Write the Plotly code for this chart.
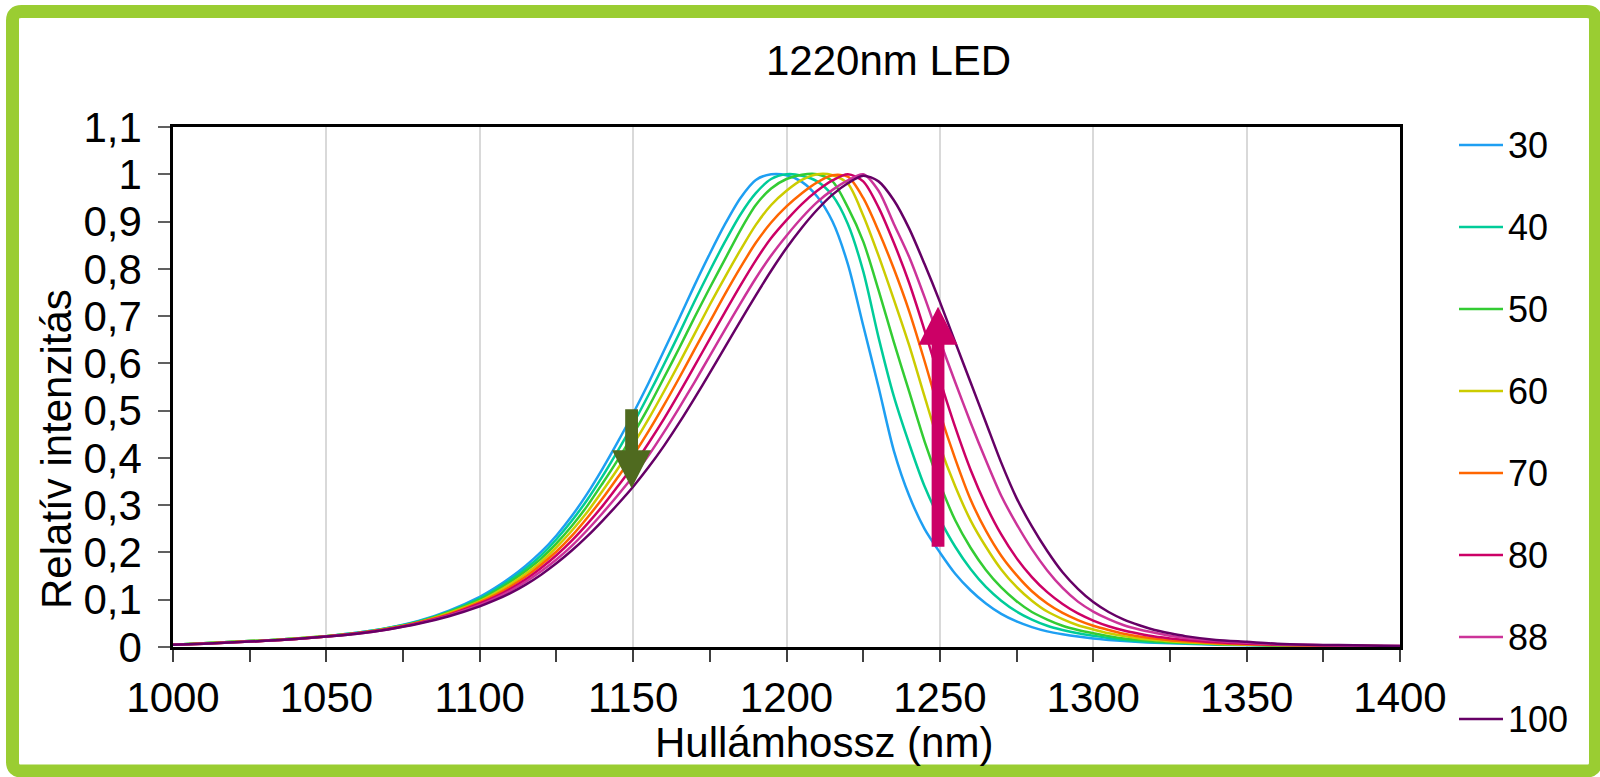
import plotly.graph_objects as go

# ---------------- data ----------------
WAVELENGTH = [1000, 1010, 1020, 1030, 1040, 1050, 1060, 1070, 1080, 1090,
              1100, 1105, 1110, 1115, 1120, 1125, 1130, 1135, 1140, 1145,
              1150, 1155, 1160, 1165, 1170, 1175, 1180, 1185, 1190, 1195,
              1200, 1205, 1210, 1215, 1220, 1225, 1230, 1235, 1240, 1245,
              1250, 1255, 1260, 1265, 1270, 1275, 1280, 1285, 1290, 1295,
              1300, 1305, 1310, 1315, 1320, 1325, 1330,
              1340, 1350, 1360, 1370, 1380, 1390, 1400]

S30 = [.005, .008, .011, .014, .018, .023, .030, .040, .055, .077,
       .106, .125, .147, .172, .201, .236, .277, .324, .377, .434,
       .494, .558, .626, .695, .765, .832, .895, .950, .988, 1.0,
       .998, .984, .953, .900, .810, .680, .550, .415, .320, .250,
       .200, .155, .120, .092, .070, .054, .042, .033, .027, .022,
       .018, .015, .0125, .0105, .009, .0078, .0068,
       .005, .004, .003, .002, .002, .001, .001]
S40 = [.005, .008, .011, .014, .018, .023, .030, .040, .054, .075,
       .103, .121, .142, .166, .194, .228, .267, .311, .361, .415,
       .472, .533, .597, .663, .731, .796, .858, .915, .960, .990,
       1.0, .997, .985, .955, .895, .795, .655, .530, .430, .340,
       .270, .212, .165, .127, .098, .075, .058, .045, .036, .029,
       .024, .019, .015, .012, .010, .009, .008,
       .006, .004, .003, .002, .002, .001, .001]
S50 = [.005, .008, .011, .014, .018, .023, .029, .039, .053, .074,
       .100, .118, .138, .161, .187, .219, .256, .298, .346, .396,
       .450, .507, .569, .632, .697, .760, .821, .882, .935, .970,
       .990, .999, 1.0, .985, .930, .858, .755, .645, .540, .435,
       .345, .268, .210, .163, .126, .097, .074, .058, .045, .036,
       .029, .023, .018, .015, .012, .010, .009,
       .006, .005, .003, .002, .002, .001, .001]
S60 = [.005, .008, .011, .014, .018, .023, .029, .039, .052, .072,
       .097, .114, .133, .155, .180, .211, .246, .285, .330, .377,
       .428, .482, .540, .600, .662, .724, .783, .840, .893, .935,
       .965, .988, 1.0, .998, .980, .913, .828, .735, .638, .530,
       .425, .340, .268, .212, .164, .127, .098, .075, .059, .046,
       .037, .029, .023, .018, .015, .012, .010,
       .007, .005, .004, .003, .002, .002, .001]
S70 = [.005, .007, .010, .013, .017, .022, .029, .038, .052, .070,
       .095, .110, .128, .149, .174, .202, .235, .273, .314, .359,
       .405, .456, .511, .569, .629, .688, .747, .803, .855, .898,
       .932, .960, .983, .998, .995, .950, .880, .800, .710, .605,
       .495, .398, .312, .246, .193, .152, .118, .092, .072, .057,
       .045, .036, .028, .022, .018, .014, .012,
       .008, .006, .004, .003, .002, .002, .001]
S80 = [.005, .007, .010, .013, .017, .022, .029, .038, .051, .068,
       .092, .106, .123, .143, .167, .194, .225, .260, .298, .340,
       .383, .431, .482, .537, .594, .652, .709, .765, .818, .865,
       .903, .937, .965, .987, 1.0, .985, .930, .855, .770, .670,
       .565, .465, .375, .300, .238, .188, .148, .116, .091, .071,
       .056, .044, .035, .028, .022, .018, .015,
       .010, .007, .005, .004, .003, .002, .002]
S88 = [.005, .007, .010, .013, .017, .022, .028, .037, .050, .067,
       .089, .103, .119, .138, .160, .185, .214, .247, .283, .321,
       .361, .405, .454, .506, .560, .616, .672, .727, .780, .828,
       .870, .908, .941, .967, .987, 1.0, .965, .895, .825, .740,
       .648, .560, .475, .395, .320, .260, .207, .162, .125, .096,
       .075, .059, .046, .037, .030, .024, .019,
       .013, .009, .006, .004, .003, .002, .002]
S100 = [.005, .007, .010, .013, .017, .022, .028, .037, .049, .065,
        .086, .099, .114, .132, .153, .177, .204, .234, .267, .302,
        .339, .380, .425, .474, .526, .580, .635, .690, .744, .796,
        .844, .887, .925, .957, .981, .997, .985, .945, .885, .810,
        .730, .645, .560, .475, .390, .315, .255, .203, .158, .123,
        .095, .074, .058, .046, .036, .029, .023,
        .015, .011, .007, .005, .004, .003, .002]

SERIES_NAMES = ["30", "40", "50", "60", "70", "80", "88", "100"]
SERIES_VALUES = [S30, S40, S50, S60, S70, S80, S88, S100]
COLORS = ["#1E9FF2", "#00CC99", "#33CC33", "#CCCC00",
          "#FF6600", "#CC0066", "#CC3399", "#660066"]

X_TICKS = [1000, 1050, 1100, 1150, 1200, 1250, 1300, 1350, 1400]
X_LABELS = ["1000", "1050", "1100", "1150", "1200", "1250", "1300", "1350", "1400"]
X_MINOR = [1025, 1075, 1125, 1175, 1225, 1275, 1325, 1375]
Y_TICKS = [0, .1, .2, .3, .4, .5, .6, .7, .8, .9, 1.0, 1.1]
Y_LABELS = ["0", "0,1", "0,2", "0,3", "0,4", "0,5", "0,6", "0,7", "0,8", "0,9", "1", "1,1"]

TITLE = "1220nm LED"
X_TITLE = "Hullámhossz (nm)"
Y_TITLE = "Relatív intenzitás"

# arrows (wavelength, start value, tip value)
DOWN_ARROW = dict(x=1149.5, y0=0.503, y1=0.336, color="#4F6A1F")
UP_ARROW = dict(x=1249.4, y0=0.212, y1=0.720, color="#CC0066")

# ---------------- layout constants ----------------
W, H = 1600, 777
ML, MR, MT, MB = 173, 200, 127, 130
PW, PH = W - ML - MR, H - MT - MB
FONT = "Liberation Sans, Arial, sans-serif"
LEG_X0, LEG_X1, LEG_TX = 1459, 1503, 1506
LEG_Y0, LEG_DY = 145, 82


def px_x(px):
    return (px - ML) / PW


def px_y(py):
    return (H - MB - py) / PH


fig = go.Figure()
for name, vals, color in zip(SERIES_NAMES, SERIES_VALUES, COLORS):
    fig.add_trace(go.Scatter(
        x=WAVELENGTH, y=vals, mode="lines", name=name,
        line=dict(color=color, width=2.5, shape="spline", smoothing=0.8),
        hoverinfo="x+y+name", showlegend=False))

# block arrows in data coordinates
nm_per_px = 400 / PW
val_per_px = 1.1 / PH
shaft_hw = 6.4 * nm_per_px
head_hw = 19.5 * nm_per_px
head_len = 38 * val_per_px


def arrow_path(a):
    x, y0, y1 = a["x"], a["y0"], a["y1"]
    d = 1 if y1 > y0 else -1
    yb = y1 - d * head_len
    pts = [(x - shaft_hw, y0), (x + shaft_hw, y0), (x + shaft_hw, yb),
           (x + head_hw, yb), (x, y1), (x - head_hw, yb), (x - shaft_hw, yb)]
    return "M " + " L ".join(f"{px},{py}" for px, py in pts) + " Z"


shapes = []
for a in (DOWN_ARROW, UP_ARROW):
    shapes.append(dict(type="path", xref="x", yref="y", path=arrow_path(a),
                       fillcolor=a["color"], line=dict(width=0), layer="above"))

# green rounded frame (paper coordinates)
bx0, bx1, by0, by1 = px_x(12.5), px_x(1595.5), px_y(11.5), px_y(771)
rx, ry = 9 / PW, 9 / PH
frame = (f"M {bx0 + rx},{by0} L {bx1 - rx},{by0} Q {bx1},{by0} {bx1},{by0 - ry} "
         f"L {bx1},{by1 + ry} Q {bx1},{by1} {bx1 - rx},{by1} "
         f"L {bx0 + rx},{by1} Q {bx0},{by1} {bx0},{by1 + ry} "
         f"L {bx0},{by0 - ry} Q {bx0},{by0} {bx0 + rx},{by0} Z")
shapes.append(dict(type="path", xref="paper", yref="paper", path=frame,
                   line=dict(color="#9ACD32", width=13), layer="above"))

annotations = [
    dict(text=TITLE, x=px_x(888), y=px_y(60), xref="paper", yref="paper",
         showarrow=False, xanchor="center", yanchor="middle",
         font=dict(size=42, color="black", family=FONT)),
    dict(text=X_TITLE, x=px_x(824), y=px_y(742), xref="paper", yref="paper",
         showarrow=False, xanchor="center", yanchor="middle",
         font=dict(size=42, color="black", family=FONT)),
    dict(text=Y_TITLE, x=px_x(56), y=px_y(449), xref="paper", yref="paper",
         showarrow=False, xanchor="center", yanchor="middle", textangle=-90,
         font=dict(size=42, color="black", family=FONT)),
]

# legend (line sample + label per series)
for i, (name, color) in enumerate(zip(SERIES_NAMES, COLORS)):
    yc = px_y(LEG_Y0 + i * LEG_DY)
    shapes.append(dict(type="line", xref="paper", yref="paper",
                       x0=px_x(LEG_X0), x1=px_x(LEG_X1), y0=yc, y1=yc,
                       line=dict(color=color, width=2.5)))
    annotations.append(dict(text=name, x=px_x(LEG_TX), y=yc, xref="paper", yref="paper",
                            showarrow=False, xanchor="left", yanchor="middle",
                            font=dict(size=36, color="black", family=FONT)))

fig.update_layout(
    width=W, height=H,
    margin=dict(l=ML, r=MR, t=MT, b=MB, autoexpand=False),
    paper_bgcolor="white", plot_bgcolor="white",
    font=dict(family=FONT, color="black"),
    showlegend=False,
    shapes=shapes,
    annotations=annotations,
    xaxis=dict(range=[1000, 1400], tickmode="array", tickvals=X_TICKS, ticktext=X_LABELS,
               ticks="outside", ticklen=12, tickwidth=1.5, tickcolor="#404040",
               showgrid=True, gridcolor="#D9D9D9", gridwidth=2,
               showline=True, linecolor="black", linewidth=2.5, mirror=True,
               zeroline=False, tickfont=dict(size=42, family=FONT, color="black"),
               minor=dict(tickmode="array", tickvals=X_MINOR, ticks="outside",
                          ticklen=12, tickwidth=1.5, tickcolor="#404040", showgrid=False)),
    yaxis=dict(range=[0, 1.1], tickmode="array", tickvals=Y_TICKS, ticktext=Y_LABELS,
               ticks="outside", ticklen=12, tickwidth=1.5, tickcolor="#606060",
               showgrid=False, showline=True, linecolor="black", linewidth=2.5,
               mirror=True, zeroline=False, ticklabelstandoff=8,
               tickfont=dict(size=42, family=FONT, color="black")),
)

fig.write_html("out.html", config={"displayModeBar": False},
               post_script="document.body.style.margin='0px';")
